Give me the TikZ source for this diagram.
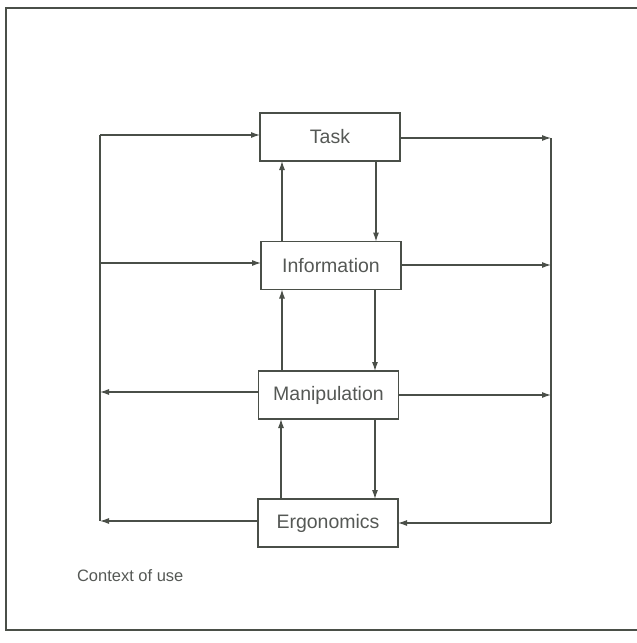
\documentclass[tikz,border=0pt]{standalone}
\usepackage{fontspec}
\setmainfont{Liberation Sans}
\usetikzlibrary{arrows.meta}
\definecolor{ink}{HTML}{4A4F48}
\definecolor{txt}{HTML}{555855}
\begin{document}
\begin{tikzpicture}[x=1pt,y=-1pt,
  every node/.style={inner sep=0pt, outer sep=0pt},
  blk/.style={draw=ink, line width=1.2pt, minimum width=140pt, minimum height=48pt,
    text=txt, font=\fontsize{19.5}{22}\selectfont},
  link/.style={draw=ink, line width=1.1pt},
  arr/.style={link, -{Latex[length=9pt,width=6pt]}}]
\useasboundingbox (0,0) rectangle (637,643);
% outer frame, open to the right
\draw[ink, line width=2pt] (637,8) -- (6,8) -- (6,630) -- (637,630);

% the four blocks
\node[blk] (task) at (330,137) {Task};
\node[blk] (info) at (331,265.5) {Information};
\node[blk] (manip) at (328.5,395) {Manipulation};
\node[blk] (ergo) at (328,523) {Ergonomics};

% corners of the left and right feedback rails
\coordinate (lt) at (100,135);
\coordinate (lb) at (100,521);
\coordinate (li) at (100,263);
\coordinate (lm) at (100,392);
\coordinate (rt) at (551,138);
\coordinate (rb) at (551,523);
\coordinate (ri) at (551,265);
\coordinate (rm) at (551,395);

% left rail
\draw[link] (lt) -- (lb);
\draw[arr] (lt) -- (lt -| task.west);
\draw[arr] (li) -- (li -| info.west);
\draw[arr] (lm -| manip.west) -- (lm);
\draw[arr] (lb -| ergo.west) -- (lb);

% right rail
\draw[link] (rt) -- (rb);
\draw[arr] (rt -| task.east) -- (rt);
\draw[arr] (ri -| info.east) -- (ri);
\draw[arr] (rm -| manip.east) -- (rm);
\draw[arr] (rb) -- (rb -| ergo.east);

% vertical links between blocks
\draw[arr] (282,0 |- info.north) -- (282,0 |- task.south);
\draw[arr] (376,0 |- task.south) -- (376,0 |- info.north);
\draw[arr] (282,0 |- manip.north) -- (282,0 |- info.south);
\draw[arr] (375,0 |- info.south) -- (375,0 |- manip.north);
\draw[arr] (281,0 |- ergo.north) -- (281,0 |- manip.south);
\draw[arr] (375,0 |- manip.south) -- (375,0 |- ergo.north);

\node[anchor=west, text=txt, font=\fontsize{16.5}{20}\selectfont] (ctx) at (77,576) {Context of use};
\end{tikzpicture}
\end{document}
